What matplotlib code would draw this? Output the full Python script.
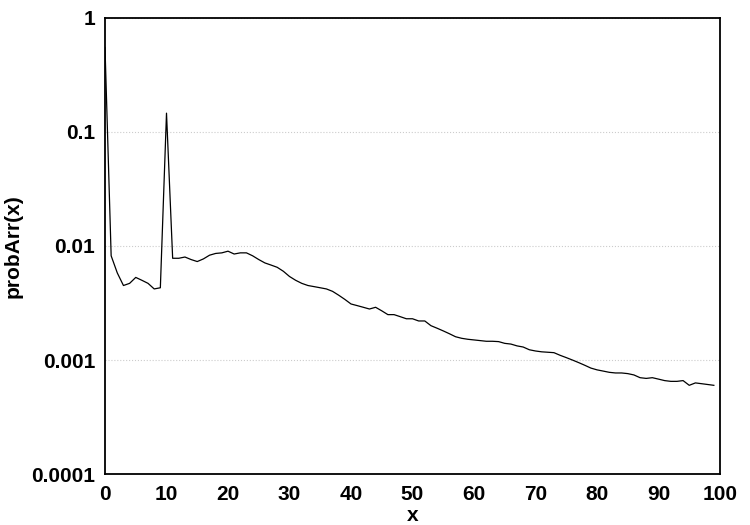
import matplotlib.pyplot as plt
from matplotlib.ticker import FixedLocator, FixedFormatter, NullLocator

# data
x = list(range(100))
prob = [
    0.55, 0.0082, 0.0058, 0.0045, 0.0047, 0.0053, 0.0050, 0.0047, 0.0042, 0.0043,
    0.146, 0.0078, 0.0078, 0.0080, 0.0076, 0.0073, 0.0077, 0.0083, 0.0086, 0.0087,
    0.0090, 0.0085, 0.0087, 0.0087, 0.0082, 0.0076, 0.0071, 0.0068, 0.0065, 0.0060,
    0.0054, 0.0050, 0.0047, 0.0045, 0.0044, 0.0043, 0.0042, 0.0040, 0.0037, 0.0034,
    0.0031, 0.0030, 0.0029, 0.0028, 0.0029, 0.0027, 0.0025, 0.0025, 0.0024, 0.0023,
    0.0023, 0.0022, 0.0022, 0.0020, 0.0019, 0.0018, 0.0017, 0.0016, 0.00155, 0.00152,
    0.0015, 0.00148, 0.00146, 0.00146, 0.00145, 0.0014, 0.00138, 0.00133, 0.0013, 0.00123,
    0.0012, 0.00118, 0.00117, 0.00116, 0.0011, 0.00105, 0.0010, 0.00095, 0.0009, 0.00085,
    0.00082, 0.0008, 0.00078, 0.00077, 0.00077, 0.00076, 0.00074, 0.0007, 0.00069, 0.0007,
    0.00068, 0.00066, 0.00065, 0.00065, 0.00066, 0.0006, 0.00063, 0.00062, 0.00061, 0.0006,
]

y_ticks = [1e-4, 1e-3, 1e-2, 1e-1, 1]
y_labels = ['0.0001', '0.001', '0.01', '0.1', '1']
x_ticks = list(range(0, 101, 10))

plt.rcParams['font.family'] = ['Liberation Sans', 'DejaVu Sans']
plt.rcParams['font.weight'] = 'bold'

fig = plt.figure(figsize=(7.5, 5.25), dpi=100)
ax = fig.add_axes([0.14, 0.097, 0.82, 0.869])

ax.plot(x, prob, color='black', linewidth=0.9)

ax.set_yscale('log')
ax.set_xlim(0, 100)
ax.set_ylim(1e-4, 1)
ax.yaxis.set_major_locator(FixedLocator(y_ticks))
ax.yaxis.set_major_formatter(FixedFormatter(y_labels))
ax.yaxis.set_minor_locator(NullLocator())
ax.set_xticks(x_ticks)

ax.tick_params(axis='both', length=0, labelsize=15)
ax.tick_params(axis='x', pad=8)
ax.tick_params(axis='y', pad=7)
for lab in ax.get_xticklabels() + ax.get_yticklabels():
    lab.set_fontweight('bold')

ax.grid(True, axis='y', linestyle=':', color='#cccccc', linewidth=0.8)
for s in ax.spines.values():
    s.set_linewidth(1.3)

ax.set_xlabel('x', fontsize=15, fontweight='bold', labelpad=1)
ax.set_ylabel('probArr(x)', fontsize=15, fontweight='bold', labelpad=6)

plt.savefig('out.png', dpi=100)
